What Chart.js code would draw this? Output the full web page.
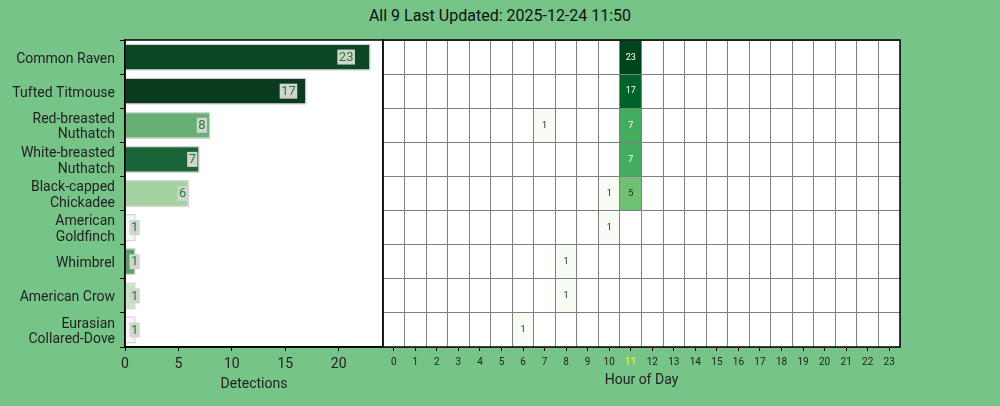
<!DOCTYPE html>
<html lang="en">
<head>
<meta charset="UTF-8">
<title>Detections by species and hour</title>
<script src="https://cdn.jsdelivr.net/npm/chart.js@4.4.0/dist/chart.umd.min.js"></script>
<style>
  html, body { margin: 0; padding: 0; background: #76c487; }
  #wrap { position: relative; width: 1000px; height: 406px; overflow: hidden; }
  #title { position: absolute; top: 6px; left: 0; width: 1000px; text-align: center;
           font: 16px Roboto, sans-serif; color: #111; }
  canvas { position: absolute; left: 0; top: 0; }
</style>
</head>
<body>
<div id="wrap">
  <div id="title">All 9 Last Updated: 2025-12-24 11:50</div>
  <canvas id="bars" width="1000" height="406"></canvas>
  <canvas id="heat" width="1000" height="406"></canvas>
</div>
<script>
// Species (top to bottom) and their tick labels
const species = ['Common Raven', 'Tufted Titmouse', 'Red-breasted Nuthatch', 'White-breasted Nuthatch',
  'Black-capped Chickadee', 'American Goldfinch', 'Whimbrel', 'American Crow', 'Eurasian Collared-Dove'];
const speciesLabels = ['Common Raven', 'Tufted Titmouse', ['Red-breasted', 'Nuthatch'], ['White-breasted', 'Nuthatch'],
  ['Black-capped', 'Chickadee'], ['American', 'Goldfinch'], 'Whimbrel', 'American Crow', ['Eurasian', 'Collared-Dove']];

// Total detections per species
const totals = [23, 17, 8, 7, 6, 1, 1, 1, 1];

// Hours of day
const hours = ['0', '1', '2', '3', '4', '5', '6', '7', '8', '9', '10', '11',
  '12', '13', '14', '15', '16', '17', '18', '19', '20', '21', '22', '23'];
const currentHour = 11;
const barTicks = [0, 5, 10, 15, 20];

// Detections per species per hour (rows follow species)
const hourly = [
  [0, 0, 0, 0, 0, 0, 0, 0, 0, 0, 0, 23, 0, 0, 0, 0, 0, 0, 0, 0, 0, 0, 0, 0],
  [0, 0, 0, 0, 0, 0, 0, 0, 0, 0, 0, 17, 0, 0, 0, 0, 0, 0, 0, 0, 0, 0, 0, 0],
  [0, 0, 0, 0, 0, 0, 0, 1, 0, 0, 0, 7, 0, 0, 0, 0, 0, 0, 0, 0, 0, 0, 0, 0],
  [0, 0, 0, 0, 0, 0, 0, 0, 0, 0, 0, 7, 0, 0, 0, 0, 0, 0, 0, 0, 0, 0, 0, 0],
  [0, 0, 0, 0, 0, 0, 0, 0, 0, 0, 1, 5, 0, 0, 0, 0, 0, 0, 0, 0, 0, 0, 0, 0],
  [0, 0, 0, 0, 0, 0, 0, 0, 0, 0, 1, 0, 0, 0, 0, 0, 0, 0, 0, 0, 0, 0, 0, 0],
  [0, 0, 0, 0, 0, 0, 0, 0, 1, 0, 0, 0, 0, 0, 0, 0, 0, 0, 0, 0, 0, 0, 0, 0],
  [0, 0, 0, 0, 0, 0, 0, 0, 1, 0, 0, 0, 0, 0, 0, 0, 0, 0, 0, 0, 0, 0, 0, 0],
  [0, 0, 0, 0, 0, 0, 1, 0, 0, 0, 0, 0, 0, 0, 0, 0, 0, 0, 0, 0, 0, 0, 0, 0]
];

// Colours
const barColors = ['#0b4724', '#0a3b1f', '#68af76', '#1a6537', '#a3d1a0', '#f3f9f2', '#5a9e6a', '#c9e5c6', '#f3f9f2'];
const greens = ['#f7fcf5', '#e5f5e0', '#c7e9c0', '#a1d99b', '#74c476', '#41ab5d', '#238b45', '#006d2c', '#00441b'];
const maxCount = Math.max(...hourly.flat());

const FONT = 'Roboto';
const TEXT = '#222';

// log scale position 0..1 of a count
const norm = v => Math.log(v) / Math.log(maxCount);

const hexToRgb = h => [1, 3, 5].map(i => parseInt(h.substr(i, 2), 16));

const cellColor = (v) => {
  if (!v) return '#ffffff';
  const t = norm(v) * (greens.length - 1);
  const i = Math.min(Math.floor(t), greens.length - 2);
  const f = t - i;
  const a = hexToRgb(greens[i]), b = hexToRgb(greens[i + 1]);
  const c = a.map((x, k) => Math.round(x + (b[k] - x) * f));
  return `rgb(${c.join(',')})`;
};

// white plot background and black frame round the plot area
const framePlugin = {
  id: 'frame',
  beforeDraw(chart) {
    const { ctx, chartArea: a } = chart;
    ctx.save();
    ctx.fillStyle = '#ffffff';
    ctx.fillRect(a.left, a.top, a.width, a.height);
    ctx.restore();
  },
  afterDraw(chart) {
    const { ctx, chartArea: a } = chart;
    ctx.save();
    ctx.strokeStyle = '#000';
    ctx.lineWidth = 1.5;
    ctx.strokeRect(a.left, a.top, a.width, a.height);
    ctx.restore();
  }
};

// value boxes on the bars
const barValuePlugin = {
  id: 'barValues',
  afterDatasetsDraw(chart) {
    const { ctx } = chart;
    const xs = chart.scales.x;
    const meta = chart.getDatasetMeta(0);
    ctx.save();
    ctx.font = `13px ${FONT}`;
    ctx.textAlign = 'center';
    ctx.textBaseline = 'middle';
    meta.data.forEach((bar, i) => {
      const v = totals[i];
      const x = xs.getPixelForValue(v * 0.9);
      const w = ctx.measureText(String(v)).width;
      ctx.fillStyle = '#d3d3d3';
      ctx.fillRect(x - w / 2 - 1.5, bar.y - 7.5, w + 3, 15);
      ctx.fillStyle = '#188a18';
      ctx.fillText(String(v), x, bar.y + 0.5);
    });
    ctx.restore();
  }
};

// counts written in the heatmap cells
const cellTextPlugin = {
  id: 'cellText',
  afterDatasetsDraw(chart) {
    const { ctx } = chart;
    ctx.save();
    ctx.font = `9px ${FONT}`;
    ctx.textAlign = 'center';
    ctx.textBaseline = 'middle';
    hourly.forEach((row, r) => {
      const meta = chart.getDatasetMeta(r);
      row.forEach((v, h) => {
        if (!v) return;
        const cell = meta.data[h];
        ctx.fillStyle = norm(v) > 0.55 ? '#ffffff' : '#262626';
        ctx.fillText(String(v), cell.x, (cell.y + cell.base) / 2);
      });
    });
    ctx.restore();
  }
};

// Bar chart: detections per species
new Chart(document.getElementById('bars'), {
  type: 'bar',
  data: {
    labels: speciesLabels,
    datasets: [{
      data: totals,
      backgroundColor: barColors,
      borderColor: '#d3d3d3',
      borderWidth: 1.5,
      categoryPercentage: 0.8,
      barPercentage: 1
    }]
  },
  options: {
    indexAxis: 'y',
    responsive: false,
    animation: false,
    devicePixelRatio: 1,
    layout: { padding: { top: 40, right: 617, left: 0, bottom: 0 } },
    plugins: { legend: { display: false }, tooltip: { enabled: false } },
    scales: {
      x: {
        min: 0,
        max: maxCount * 1.05,
        afterBuildTicks: s => { s.ticks = barTicks.map(v => ({ value: v })); },
        ticks: { color: TEXT, font: { family: FONT, size: 14 }, padding: 5, maxRotation: 0 },
        grid: { drawOnChartArea: false, tickLength: 4, color: '#000' },
        border: { color: '#000', width: 1.5 },
        title: { display: true, text: 'Detections', color: TEXT,
                 font: { family: FONT, size: 14 }, padding: { top: 0, bottom: 13 } },
        afterFit: s => { s.height = 59; }
      },
      y: {
        ticks: { color: TEXT, font: { family: FONT, size: 14, lineHeight: 1.1 }, padding: 5, labelOffset: 2 },
        grid: { drawOnChartArea: false, tickLength: 5, color: '#000' },
        border: { color: '#000', width: 1.5 },
        afterFit: s => { s.width = 125; }
      }
    }
  },
  plugins: [framePlugin, barValuePlugin]
});

// Heatmap: detections per species per hour
new Chart(document.getElementById('heat'), {
  type: 'bar',
  data: {
    labels: hours,
    datasets: hourly.map((row, r) => ({
      label: species[r],
      data: hours.map(() => [r, r + 1]),
      backgroundColor: row.map(cellColor),
      borderWidth: 0,
      barPercentage: 1,
      categoryPercentage: 1,
      grouped: false
    }))
  },
  options: {
    responsive: false,
    animation: false,
    devicePixelRatio: 1,
    layout: { padding: { top: 40, left: 383, right: 100, bottom: 0 } },
    plugins: { legend: { display: false }, tooltip: { enabled: false } },
    scales: {
      x: {
        offset: true,
        ticks: {
          color: c => (c.index === currentHour ? '#ffff00' : TEXT),
          font: { family: FONT, size: 10 }, padding: 5, autoSkip: false, maxRotation: 0
        },
        grid: { offset: false, drawOnChartArea: false, tickLength: 4, color: '#000' },
        border: { display: false },
        title: { display: true, text: 'Hour of Day', color: TEXT,
                 font: { family: FONT, size: 14 }, padding: { top: 0, bottom: 17 } },
        afterFit: s => { s.height = 59; }
      },
      x2: {
        type: 'category',
        position: 'top',
        offset: true,
        ticks: { display: false },
        grid: { offset: true, color: '#808080', lineWidth: 1, drawTicks: false, z: 1 },
        border: { display: false },
        afterFit: s => { s.height = 0; }
      },
      y: {
        min: 0,
        max: species.length,
        reverse: true,
        ticks: { display: false, stepSize: 1 },
        grid: { color: '#808080', lineWidth: 1, drawTicks: false, z: 1 },
        border: { display: false },
        afterFit: s => { s.width = 0; }
      }
    }
  },
  plugins: [framePlugin, cellTextPlugin]
});
</script>
</body>
</html>
